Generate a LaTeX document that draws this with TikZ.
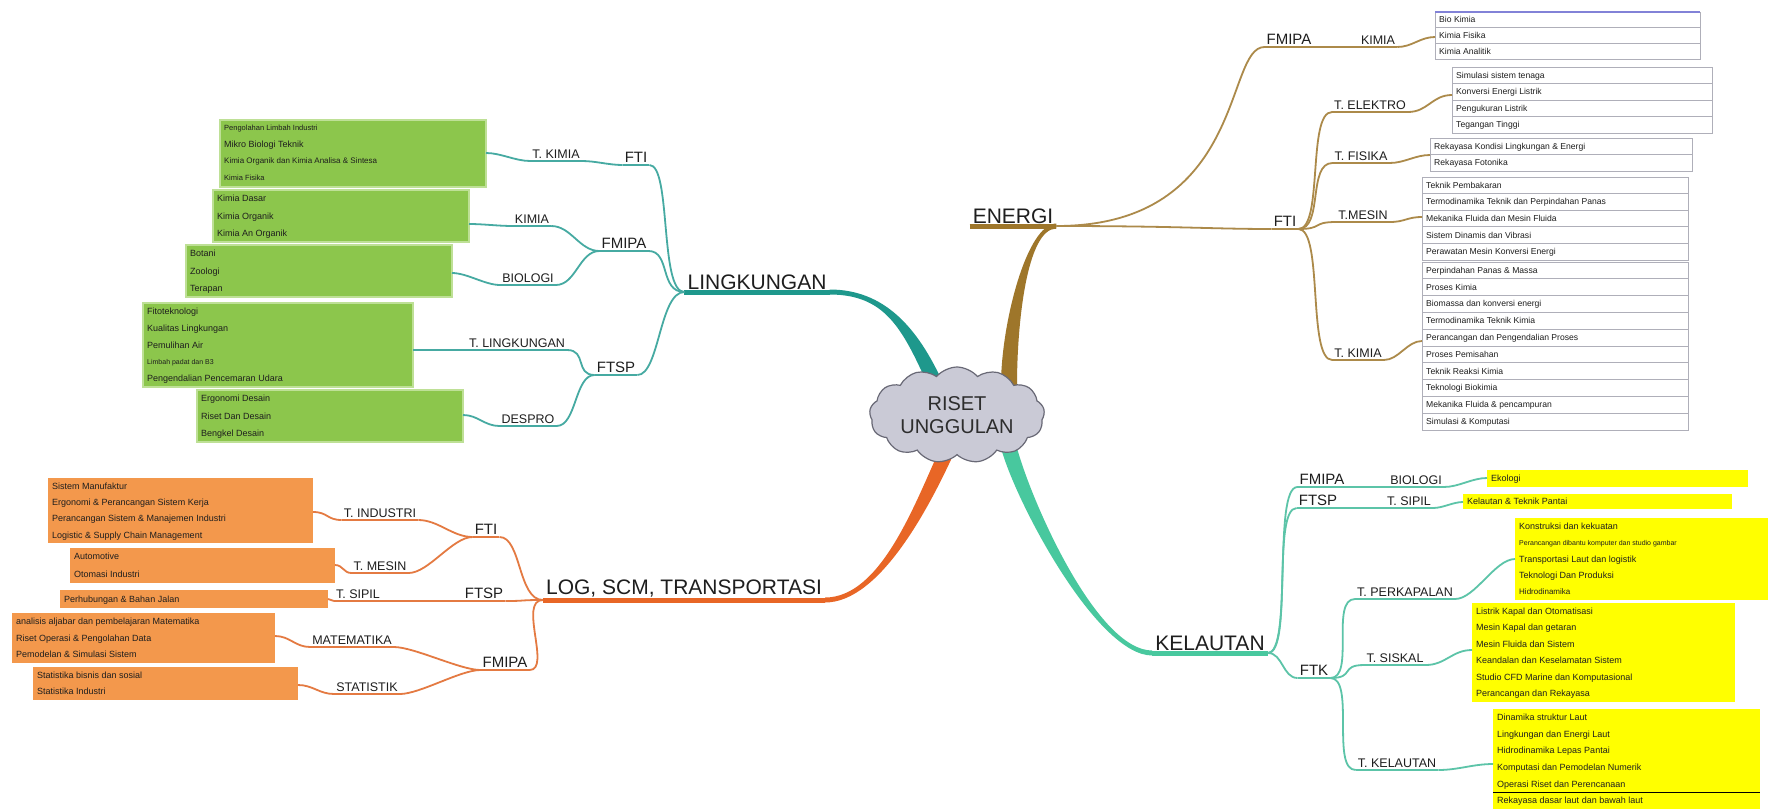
\documentclass[tikz,border=0pt]{standalone}
\usepackage{fontspec}
\setmainfont{Liberation Sans}
\usetikzlibrary{shapes.symbols,calc,backgrounds}
\definecolor{txt}{RGB}{30,30,30}
\definecolor{tealM}{RGB}{30,152,140}
\definecolor{tealS}{RGB}{70,170,162}
\definecolor{brownM}{RGB}{158,118,42}
\definecolor{brownS}{RGB}{172,138,74}
\definecolor{orM}{RGB}{232,102,38}
\definecolor{orS}{RGB}{228,122,66}
\definecolor{mintM}{RGB}{72,200,158}
\definecolor{mintS}{RGB}{92,196,168}
\definecolor{gfill}{RGB}{140,198,76}
\definecolor{gedge}{RGB}{190,224,150}
\definecolor{ofill}{RGB}{243,152,76}
\definecolor{yfill}{RGB}{255,255,0}
\definecolor{cloudf}{RGB}{202,202,214}
\definecolor{cloude}{RGB}{105,105,118}
\definecolor{rowl}{RGB}{175,175,185}
\definecolor{topl}{RGB}{130,130,215}

\newcommand\lbl[5]{\node[#1] (#2) at (#3) {#4}; \draw[#5] (#2.south west) -- (#2.south east);}
\newcommand\cbox[8]{%
  \path[#7] (#2,#3) rectangle (#4,#5);
  \pgfmathsetmacro\hh{(#5-#3)/#6}
  \node[rowtxt, font=\fontsize{9}{\hh}\selectfont] (#1) at (#2+4,{#3+\hh/2-3.6}) {#8};}
\newcommand\wbox[7]{%
  \fill[white] (#2,#3) rectangle (#4,#5);
  \pgfmathsetmacro\hh{(#5-#3)/#6}
  \pgfmathtruncatemacro\nn{#6-1}
  \foreach \k in {1,...,\nn} \draw[rowl, line width=0.8] (#2,{#3+\k*\hh}) -- (#4,{#3+\k*\hh});
  \draw[rowl, line width=0.8] (#2,#3) rectangle (#4,#5);
  \node[rowtxt, font=\fontsize{8.6}{\hh}\selectfont] (#1) at (#2+4,{#3+\hh/2-3.5}) {#7};}
\newcommand\taper[7]{\fill[#7] ($(#1)+#3$) .. controls ($(#1)+#3+#5$) and ($(#2)+#4+#6$) .. ($(#2)+#4$) -- ($(#2)-#4$) .. controls ($(#2)-#4+#6$) and ($(#1)-#3+#5$) .. ($(#1)-#3$) -- cycle;}

\begin{document}
\begin{tikzpicture}[x=1pt,y=-1pt,
  main/.style={font=\fontsize{21}{21}\selectfont, anchor=south, inner xsep=3, inner ysep=2.5, text=txt},
  fac/.style={font=\fontsize{15}{15}\selectfont, anchor=south, inner xsep=2, inner ysep=2, text=txt},
  dep/.style={font=\fontsize{12.5}{13}\selectfont, anchor=south, inner xsep=2, inner ysep=2, text=txt},
  rowtxt/.style={anchor=north west, align=left, inner sep=0, text=txt},
  tm/.style={draw=tealM, line width=5}, ts/.style={draw=tealS, line width=1.8},
  bm/.style={draw=brownM, line width=5}, bs/.style={draw=brownS, line width=1.8},
  om/.style={draw=orM, line width=5}, os/.style={draw=orS, line width=1.8},
  mm/.style={draw=mintM, line width=5}, ms/.style={draw=mintS, line width=1.8},
  gst/.style={fill=gfill, draw=gedge, line width=1.5},
  ost/.style={fill=ofill},
  yst/.style={fill=yfill}]
\useasboundingbox (0,0) rectangle (1771,809);

% centre
\node[cloud, cloud puffs=13, cloud puff arc=100, cloud ignores aspect, minimum width=175, minimum height=96,
  draw=cloude, line width=1.2, fill=cloudf, align=center, font=\fontsize{20}{23}\selectfont, text=txt!85!gray, inner sep=0]
  (rc) at (957,415) {RISET\\UNGGULAN};
\coordinate (eL) at ($(rc.center)+(-22,-32)$);
\coordinate (eE) at ($(rc.center)+(52,-30)$);
\coordinate (eO) at ($(rc.center)+(-10,36)$);
\coordinate (eK) at ($(rc.center)+(52,33)$);

% main labels
\lbl{main}{lingk}{757,292}{LINGKUNGAN}{tm}
\lbl{main}{log}{684,600}{LOG, SCM, TRANSPORTASI}{om}
\lbl{main}{en}{1013,226}{ENERGI}{bm}
\lbl{main}{kel}{1210,653}{KELAUTAN}{mm}

\begin{pgfonlayer}{background}
\fill[white] (0,0) rectangle (1771,809);
\taper{lingk.south east}{eL}{(0,-2.5)}{(8,0)}{(55,0)}{(-25,-55)}{tealM}
\taper{log.south east}{eO}{(0,2.5)}{(8,0)}{(55,0)}{(-25,55)}{orM}
\taper{en.south east}{eE}{(0,-2.5)}{(-8,0)}{(-30,0)}{(0,-60)}{brownM}
\taper{kel.south west}{eK}{(0,2.5)}{(-8,0)}{(-55,0)}{(15,55)}{mintM}
\end{pgfonlayer}

% ---------------- LINGKUNGAN ----------------
\lbl{fac}{lfti}{636,165}{FTI}{ts}
\lbl{dep}{ltk}{556,161}{T. KIMIA}{ts}
\lbl{fac}{lfmipa}{624,251}{FMIPA}{ts}
\lbl{dep}{lkim}{532,226}{KIMIA}{ts}
\lbl{dep}{lbio}{528,285}{BIOLOGI}{ts}
\lbl{fac}{lftsp}{616,375}{FTSP}{ts}
\lbl{dep}{ltl}{517,350}{T. LINGKUNGAN}{ts}
\lbl{dep}{ldes}{528,426}{DESPRO}{ts}
\draw[ts] (lingk.south west) .. controls +(-25,0) and +(22,0) .. (lfti.south east);
\draw[ts] (lingk.south west) .. controls +(-25,0) and +(22,0) .. (lfmipa.south east);
\draw[ts] (lingk.south west) .. controls +(-25,0) and +(22,0) .. (lftsp.south east);
\draw[ts] (lfti.south west) .. controls +(-14,0) and +(14,0) .. (ltk.south east);
\draw[ts] (lfmipa.south west) .. controls +(-20,0) and +(20,0) .. (lkim.south east);
\draw[ts] (lfmipa.south west) .. controls +(-20,0) and +(20,0) .. (lbio.south east);
\draw[ts] (lftsp.south west) .. controls +(-20,0) and +(20,0) .. (ltl.south east);
\draw[ts] (lftsp.south west) .. controls +(-20,0) and +(20,0) .. (ldes.south east);

\cbox{gTK}{220}{120}{486}{187}{4}{gst}{{\fontsize{7.5}{8}\selectfont Pengolahan Limbah Industri}\\Mikro Biologi Teknik\\{\fontsize{8}{8}\selectfont Kimia Organik dan Kimia Analisa \& Sintesa}\\{\fontsize{7.5}{8}\selectfont Kimia Fisika}}
\cbox{gKim}{213}{190}{469}{242}{3}{gst}{Kimia Dasar\\Kimia Organik\\Kimia An Organik}
\cbox{gBio}{186}{245}{452}{297}{3}{gst}{Botani\\Zoologi\\Terapan}
\cbox{gTL}{143}{303}{413}{387}{5}{gst}{Fitoteknologi\\Kualitas Lingkungan\\Pemulihan Air\\{\fontsize{7}{7}\selectfont Limbah padat dan B3}\\Pengendalian Pencemaran Udara}
\cbox{gDes}{197}{390}{463}{442}{3}{gst}{Ergonomi Desain\\Riset Dan Desain\\Bengkel Desain}
\coordinate (gTKc) at (486,153);
\coordinate (gKimc) at (469,224);
\coordinate (gBioc) at (452,273);
\coordinate (gTLc) at (413,350);
\coordinate (gDesc) at (463,415);
\draw[ts] (ltk.south west) .. controls +(-15,0) and +(15,0) .. (gTKc);
\draw[ts] (lkim.south west) .. controls +(-15,0) and +(15,0) .. (gKimc);
\draw[ts] (lbio.south west) .. controls +(-15,0) and +(15,0) .. (gBioc);
\draw[ts] (ltl.south west) .. controls +(-20,0) and +(20,0) .. (gTLc);
\draw[ts] (ldes.south west) .. controls +(-15,0) and +(15,0) .. (gDesc);

% ---------------- LOG ----------------
\lbl{fac}{ofti}{486,537}{FTI}{os}
\lbl{dep}{oti}{380,520}{T. INDUSTRI}{os}
\lbl{dep}{otm}{380,573}{T. MESIN}{os}
\lbl{fac}{oftsp}{484,601}{FTSP}{os}
\lbl{dep}{ots}{358,601}{T. SIPIL}{os}
\lbl{fac}{ofmipa}{505,670}{FMIPA}{os}
\lbl{dep}{omat}{352,647}{MATEMATIKA}{os}
\lbl{dep}{ostat}{367,694}{STATISTIK}{os}
\draw[os] (log.south west) .. controls +(-25,0) and +(22,0) .. (ofti.south east);
\draw[os] (log.south west) .. controls +(-25,0) and +(22,0) .. (oftsp.south east);
\draw[os] (log.south west) .. controls +(-25,0) and +(22,0) .. (ofmipa.south east);
\draw[os] (ofti.south west) .. controls +(-20,0) and +(20,0) .. (oti.south east);
\draw[os] (ofti.south west) .. controls +(-20,0) and +(20,0) .. (otm.south east);
\draw[os] (oftsp.south west) -- (ots.south east);
\draw[os] (ofmipa.south west) .. controls +(-20,0) and +(20,0) .. (omat.south east);
\draw[os] (ofmipa.south west) .. controls +(-20,0) and +(20,0) .. (ostat.south east);

\cbox{oTI}{48}{478}{313}{543}{4}{ost}{Sistem Manufaktur\\Ergonomi \& Perancangan Sistem Kerja\\Perancangan Sistem \& Manajemen Industri\\Logistic \& Supply Chain Management}
\cbox{oTM}{70}{548}{335}{583}{2}{ost}{Automotive\\Otomasi Industri}
\cbox{oTS}{60}{590}{328}{608}{1}{ost}{Perhubungan \& Bahan Jalan}
\cbox{oMat}{12}{613}{275}{663}{3}{ost}{analisis aljabar dan pembelajaran Matematika\\Riset Operasi \& Pengolahan Data\\Pemodelan \& Simulasi Sistem}
\cbox{oStat}{33}{667}{298}{700}{2}{ost}{Statistika bisnis dan sosial\\Statistika Industri}
\coordinate (oTIc) at (313,512);
\coordinate (oTMc) at (335,565);
\coordinate (oTSc) at (328,599);
\coordinate (oMatc) at (275,636);
\coordinate (oStatc) at (298,685);
\draw[os] (oti.south west) .. controls +(-15,0) and +(15,0) .. (oTIc);
\draw[os] (otm.south west) .. controls +(-8,0) and +(8,0) .. (oTMc);
\draw[os] (ots.south west) -- (oTSc);
\draw[os] (omat.south west) .. controls +(-15,0) and +(15,0) .. (oMatc);
\draw[os] (ostat.south west) .. controls +(-15,0) and +(15,0) .. (oStatc);

% ---------------- ENERGI ----------------
\lbl{fac}{efmipa}{1289,47}{FMIPA}{bs}
\lbl{dep}{ekim}{1378,47}{KIMIA}{bs}
\lbl{fac}{efti}{1285,229}{FTI}{bs}
\lbl{dep}{eel}{1370,112}{T. ELEKTRO}{bs}
\lbl{dep}{efis}{1361,163}{T. FISIKA}{bs}
\lbl{dep}{emes}{1363,222}{T.MESIN}{bs}
\lbl{dep}{ekmi}{1358,360}{T. KIMIA}{bs}
\draw[bs] (en.south east) .. controls +(190,0) and +(-40,0) .. (efmipa.south west);
\draw[bs] (en.south east) .. controls +(120,0) and +(-60,0) .. (efti.south west);
\draw[bs] (efmipa.south east) .. controls +(12,0) and +(-12,0) .. (ekim.south west);
\draw[bs] (efti.south east) .. controls +(25,0) and +(-25,0) .. (eel.south west);
\draw[bs] (efti.south east) .. controls +(25,0) and +(-25,0) .. (efis.south west);
\draw[bs] (efti.south east) .. controls +(25,0) and +(-25,0) .. (emes.south west);
\draw[bs] (efti.south east) .. controls +(25,0) and +(-25,0) .. (ekmi.south west);

\wbox{wKim}{1435}{12}{1700}{59}{3}{Bio Kimia\\Kimia Fisika\\Kimia Analitik}
\draw[topl, line width=1.5] (1435,12) -- (1700,12);
\wbox{wEl}{1452}{67}{1712}{133}{4}{Simulasi sistem tenaga\\Konversi Energi Listrik\\Pengukuran Listrik\\Tegangan Tinggi}
\wbox{wFis}{1430}{138}{1692}{171}{2}{Rekayasa Kondisi Lingkungan \& Energi\\Rekayasa Fotonika}
\wbox{wMes}{1422}{177}{1688}{260}{5}{Teknik Pembakaran\\Termodinamika Teknik dan Perpindahan Panas\\Mekanika Fluida dan Mesin Fluida\\Sistem Dinamis dan Vibrasi\\Perawatan Mesin Konversi Energi}
\wbox{wKmi}{1422}{262}{1688}{430}{10}{Perpindahan Panas \& Massa\\Proses Kimia\\Biomassa dan konversi energi\\Termodinamika Teknik Kimia\\Perancangan dan Pengendalian Proses\\Proses Pemisahan\\Teknik Reaksi Kimia\\Teknologi Biokimia\\Mekanika Fluida \& pencampuran\\Simulasi \& Komputasi}
\coordinate (wKimc) at (1435,37);
\coordinate (wElc) at (1452,95);
\coordinate (wFisc) at (1430,155);
\coordinate (wMesc) at (1422,217);
\coordinate (wKmic) at (1422,341);
\draw[bs] (ekim.south east) .. controls +(15,0) and +(-15,0) .. (wKimc);
\draw[bs] (eel.south east) .. controls +(20,0) and +(-20,0) .. (wElc);
\draw[bs] (efis.south east) .. controls +(15,0) and +(-15,0) .. (wFisc);
\draw[bs] (emes.south east) .. controls +(15,0) and +(-15,0) .. (wMesc);
\draw[bs] (ekmi.south east) .. controls +(15,0) and +(-15,0) .. (wKmic);

% ---------------- KELAUTAN ----------------
\lbl{fac}{kfmipa}{1322,487}{FMIPA}{ms}
\lbl{dep}{kbio}{1416,487}{BIOLOGI}{ms}
\lbl{fac}{kftsp}{1318,508}{FTSP}{ms}
\lbl{dep}{ksip}{1409,508}{T. SIPIL}{ms}
\lbl{fac}{kftk}{1314,678}{FTK}{ms}
\lbl{dep}{kper}{1405,599}{T. PERKAPALAN}{ms}
\lbl{dep}{ksis}{1395,665}{T. SISKAL}{ms}
\lbl{dep}{kkel}{1397,770}{T. KELAUTAN}{ms}
\draw[ms] (kel.south east) .. controls +(25,0) and +(-25,0) .. (kfmipa.south west);
\draw[ms] (kel.south east) .. controls +(25,0) and +(-25,0) .. (kftsp.south west);
\draw[ms] (kel.south east) .. controls +(15,0) and +(-15,0) .. (kftk.south west);
\draw[ms] (kfmipa.south east) .. controls +(15,0) and +(-15,0) .. (kbio.south west);
\draw[ms] (kftsp.south east) .. controls +(15,0) and +(-15,0) .. (ksip.south west);
\draw[ms] (kftk.south east) .. controls +(25,0) and +(-25,0) .. (kper.south west);
\draw[ms] (kftk.south east) .. controls +(25,0) and +(-25,0) .. (ksis.south west);
\draw[ms] (kftk.south east) .. controls +(25,0) and +(-25,0) .. (kkel.south west);

\cbox{yBio}{1487}{470}{1748}{487}{1}{yst}{Ekologi}
\cbox{ySip}{1463}{494}{1732}{509}{1}{yst}{Kelautan \& Teknik Pantai}
\cbox{yPer}{1515}{518}{1768}{600}{5}{yst}{Konstruksi dan kekuatan\\{\fontsize{7}{7}\selectfont Perancangan dibantu komputer dan studio gambar}\\Transportasi Laut dan logistik\\Teknologi Dan Produksi\\{\fontsize{8}{8}\selectfont Hidrodinamika}}
\cbox{ySis}{1472}{603}{1735}{702}{6}{yst}{Listrik Kapal dan Otomatisasi\\Mesin Kapal dan getaran\\Mesin Fluida dan Sistem\\Keandalan dan Keselamatan Sistem\\Studio CFD Marine dan Komputasional\\Perancangan dan Rekayasa}
\cbox{yKel}{1493}{709}{1760}{809}{6}{yst}{Dinamika struktur Laut\\Lingkungan dan Energi Laut\\Hidrodinamika Lepas Pantai\\Komputasi dan Pemodelan Numerik\\Operasi Riset dan Perencanaan\\Rekayasa dasar laut dan bawah laut}
\draw[black, line width=1] (1493,{709+5*100/6}) -- (1760,{709+5*100/6});
\coordinate (yBioc) at (1487,478);
\coordinate (ySipc) at (1463,502);
\coordinate (yPerc) at (1515,559);
\coordinate (ySisc) at (1472,650);
\coordinate (yKelc) at (1493,764);
\draw[ms] (kbio.south east) .. controls +(15,0) and +(-15,0) .. (yBioc);
\draw[ms] (ksip.south east) .. controls +(10,0) and +(-10,0) .. (ySipc);
\draw[ms] (kper.south east) .. controls +(20,0) and +(-20,0) .. (yPerc);
\draw[ms] (ksis.south east) .. controls +(20,0) and +(-20,0) .. (ySisc);
\draw[ms] (kkel.south east) .. controls +(20,0) and +(-20,0) .. (yKelc);
\end{tikzpicture}
\end{document}
